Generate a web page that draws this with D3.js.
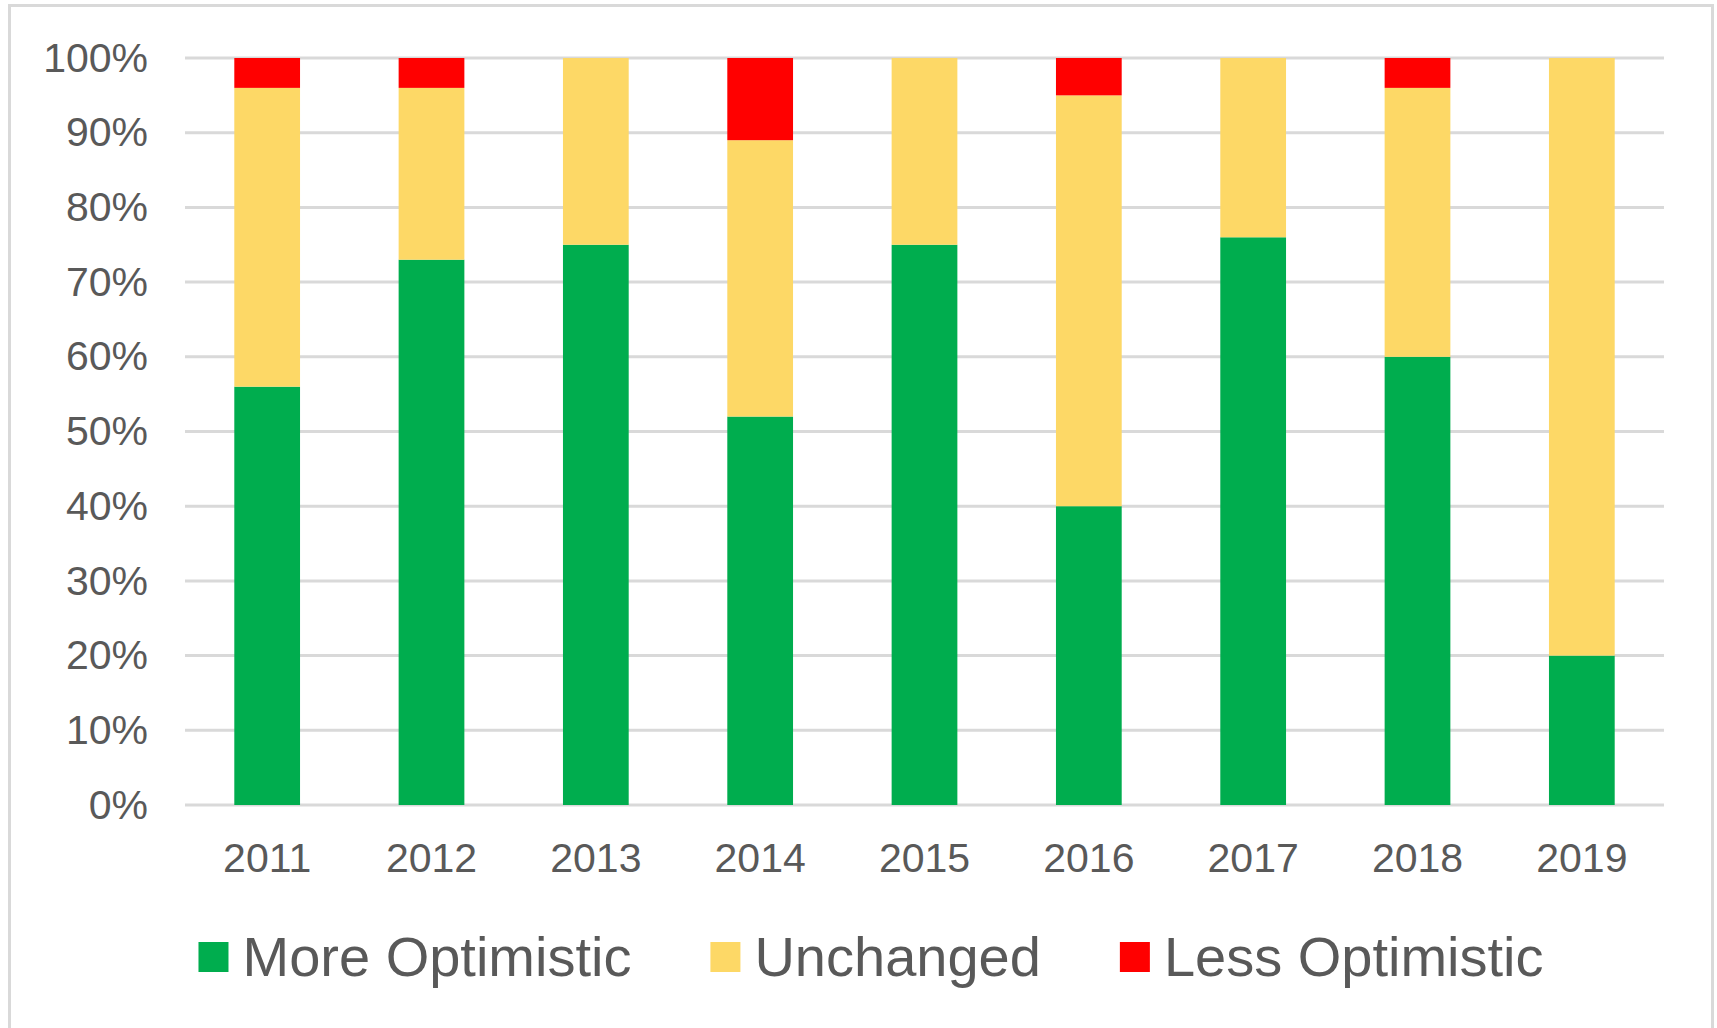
<!DOCTYPE html>
<html>
<head>
<meta charset="utf-8">
<script src="https://cdn.jsdelivr.net/npm/d3@7"></script>
<style>
  body { margin: 0; background: #fff; }
  text { font-family: "Liberation Sans", Arial, sans-serif; fill: #595959; }
</style>
</head>
<body>
<script>
// Chart data (percent of respondents per year)
var years = ["2011", "2012", "2013", "2014", "2015", "2016", "2017", "2018", "2019"];
var moreOptimistic = [56, 73, 75, 52, 75, 40, 76, 60, 20];
var unchanged      = [40, 23, 25, 37, 25, 55, 24, 36, 80];
var lessOptimistic = [4, 4, 0, 11, 0, 5, 0, 4, 0];
var seriesNames = ["More Optimistic", "Unchanged", "Less Optimistic"];
var seriesColors = ["#00AD4E", "#FDD866", "#FF0000"];
var yTicks = [0, 10, 20, 30, 40, 50, 60, 70, 80, 90, 100];

var W = 1717, H = 1028;
var plot = { left: 185, right: 1664, top: 58, bottom: 805 };

var svg = d3.select("body").append("svg")
    .attr("width", W)
    .attr("height", H);

// outer frame
svg.append("rect")
    .attr("x", 9.5).attr("y", 5.5)
    .attr("width", 1703).attr("height", 1040)
    .attr("fill", "#fff")
    .attr("stroke", "#D9D9D9")
    .attr("stroke-width", 3);

var x = d3.scaleBand()
    .domain(years)
    .range([plot.left, plot.right])
    .paddingInner(0.6)
    .paddingOuter(0.3);

var y = d3.scaleLinear()
    .domain([0, 100])
    .range([plot.bottom, plot.top]);

// gridlines
svg.append("g").selectAll("line")
    .data(yTicks)
    .enter().append("line")
    .attr("x1", plot.left).attr("x2", plot.right)
    .attr("y1", function(d){ return y(d); })
    .attr("y2", function(d){ return y(d); })
    .attr("stroke", "#D9D9D9")
    .attr("stroke-width", 3);

// y axis labels
var yAxis = d3.axisLeft(y).tickValues(yTicks)
    .tickFormat(function(d){ return d + "%"; })
    .tickSize(0).tickPadding(0);
var yg = svg.append("g")
    .attr("transform", "translate(148,0)")
    .call(yAxis);
yg.select(".domain").remove();
yg.selectAll("text")
    .attr("font-size", 41)
    .attr("font-family", null)
    .attr("fill", null);

// x axis labels
var xAxis = d3.axisBottom(x).tickSize(0).tickPadding(0);
var xg = svg.append("g")
    .attr("transform", "translate(0,857)")
    .call(xAxis);
xg.select(".domain").remove();
xg.selectAll("text")
    .attr("font-size", 41)
    .attr("font-family", null)
    .attr("fill", null)
    .attr("dy", "0.36em");

// stacked bars
var rows = years.map(function(yr, i){
    return { year: yr, more: moreOptimistic[i], same: unchanged[i], less: lessOptimistic[i] };
});
var stack = d3.stack().keys(["more", "same", "less"]);
var layers = stack(rows);

svg.append("g").selectAll("g")
    .data(layers)
    .enter().append("g")
    .attr("fill", function(d, i){ return seriesColors[i]; })
    .selectAll("rect")
    .data(function(d){ return d; })
    .enter().append("rect")
    .attr("x", function(d){ return x(d.data.year); })
    .attr("width", x.bandwidth())
    .attr("y", function(d){ return y(d[1]); })
    .attr("height", function(d){ return y(d[0]) - y(d[1]); });

// legend
var legend = svg.append("g");
var items = legend.selectAll("g")
    .data(seriesNames)
    .enter().append("g");
items.append("rect")
    .attr("width", 30).attr("height", 30)
    .attr("y", 942)
    .attr("fill", function(d, i){ return seriesColors[i]; });
items.append("text")
    .attr("x", 44)
    .attr("y", 976)
    .attr("font-size", 56)
    .text(function(d){ return d; });

var offset = 0, gap = 79;
items.each(function(){
    var w = 44 + d3.select(this).select("text").node().getComputedTextLength();
    d3.select(this).attr("transform", "translate(" + offset + ",0)");
    offset += w + gap;
});
var total = offset - gap;
legend.attr("transform", "translate(" + (871 - total / 2) + ",0)");
</script>
</body>
</html>
